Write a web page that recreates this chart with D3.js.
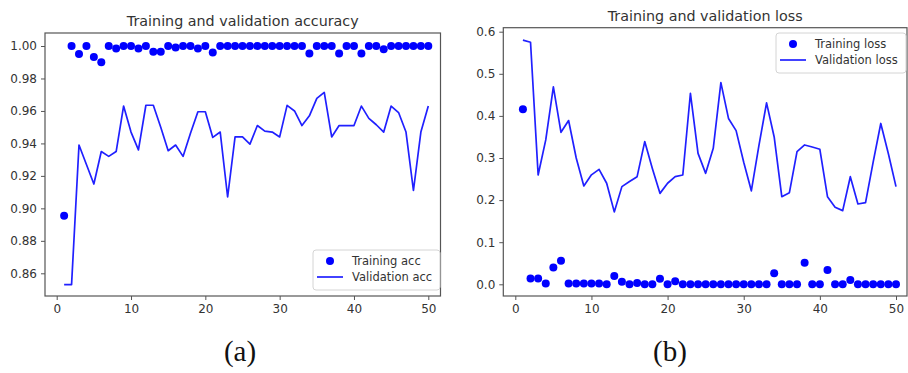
<html>
<head>
    <script src="https://d3js.org/d3.v7.min.js"></script>
    <style>
        body { margin: 0; background: #fff; }
        svg text { font-family: "DejaVu Sans"; fill: #333; }
        .tick line { stroke: #555; }
        .domain { display: none; }
        .caption { font-family: "Liberation Serif"; font-size: 29px; fill: #111; }
    </style>
</head>
<body>
<div id="chart"></div>
<script>
    // epochs 1..50
    var epochs = d3.range(1, 51);

    var trainAcc = [0.8955, 1.000, 0.995, 1.000, 0.9933, 0.990, 1.000, 0.9985, 1.000, 1.000,
                    0.9985, 1.000, 0.9965, 0.9965, 1.000, 0.999, 1.000, 1.000, 0.9985, 1.000,
                    0.996, 1.000, 1.000, 1.000, 1.000, 1.000, 1.000, 1.000, 1.000, 1.000,
                    1.000, 1.000, 1.000, 0.9954, 1.000, 1.000, 1.000, 0.9954, 1.000, 1.000,
                    0.9954, 1.000, 1.000, 0.998, 1.000, 1.000, 1.000, 1.000, 1.000, 1.000];
    var valAcc = [0.853, 0.853, 0.939, 0.927, 0.915, 0.935, 0.932, 0.935, 0.963, 0.947,
                  0.936, 0.9635, 0.9635, 0.950, 0.9355, 0.939, 0.932, 0.9463, 0.9595, 0.9595,
                  0.9437, 0.947, 0.907, 0.944, 0.944, 0.9396, 0.951, 0.9476, 0.947, 0.944,
                  0.9634, 0.960, 0.951, 0.957, 0.9677, 0.9714, 0.944, 0.951, 0.951, 0.951,
                  0.963, 0.9554, 0.9515, 0.947, 0.963, 0.959, 0.947, 0.911, 0.947, 0.963];

    var trainLoss = [0.4157, 0.014, 0.014, 0.002, 0.040, 0.056, 0.002, 0.002, 0.002, 0.002,
                     0.002, 0.000, 0.020, 0.006, 0.000, 0.003, 0.000, 0.000, 0.013, 0.000,
                     0.007, 0.000, 0.000, 0.000, 0.000, 0.000, 0.000, 0.000, 0.000, 0.000,
                     0.000, 0.000, 0.000, 0.026, 0.000, 0.000, 0.000, 0.0514, 0.000, 0.000,
                     0.034, 0.000, 0.000, 0.010, 0.000, 0.000, 0.000, 0.000, 0.000, 0.000];
    var valLoss = [0.580, 0.575, 0.2596, 0.343, 0.469, 0.361, 0.389, 0.300, 0.2335, 0.260,
                   0.273, 0.240, 0.172, 0.232, 0.244, 0.2556, 0.339, 0.275, 0.216, 0.240,
                   0.2556, 0.2596, 0.4537, 0.311, 0.2636, 0.323, 0.479, 0.394, 0.365, 0.290,
                   0.222, 0.330, 0.431, 0.350, 0.208, 0.2176, 0.315, 0.331, 0.326, 0.3207,
                   0.208, 0.183, 0.175, 0.2556, 0.1907, 0.194, 0.290, 0.382, 0.310, 0.232];

    var xTicks = [0, 10, 20, 30, 40, 50];
    var accTicks = [0.86, 0.88, 0.90, 0.92, 0.94, 0.96, 0.98, 1.00];
    var lossTicks = [0.0, 0.1, 0.2, 0.3, 0.4, 0.5, 0.6];

    var svg = d3.select("#chart").append("svg")
        .attr("width", 908)
        .attr("height", 373);

    function panel(opt) {
        var x = d3.scaleLinear().domain([0, 50]).range(opt.xr);
        var y = d3.scaleLinear().domain(opt.yd).range(opt.yr);
        var g = svg.append("g");

        g.append("rect")
            .attr("x", opt.box[0]).attr("y", opt.box[1])
            .attr("width", opt.box[2] - opt.box[0])
            .attr("height", opt.box[3] - opt.box[1])
            .attr("fill", "none")
            .attr("stroke", "#555")
            .attr("stroke-width", 1.2);

        g.append("g")
            .attr("transform", "translate(0," + opt.box[3] + ")")
            .call(d3.axisBottom(x).tickValues(xTicks).tickSize(4).tickPadding(4))
            .selectAll("text").style("font-size", "12px");

        g.append("g")
            .attr("transform", "translate(" + opt.box[0] + ",0)")
            .call(d3.axisLeft(y).tickValues(opt.yticks).tickSize(4).tickPadding(4)
                .tickFormat(d3.format(opt.fmt)))
            .selectAll("text").style("font-size", "12px");

        var line = d3.line()
            .x(function(d, i) { return x(epochs[i]); })
            .y(function(d) { return y(d); });

        g.append("path")
            .datum(opt.val)
            .attr("d", line)
            .attr("fill", "none")
            .attr("stroke", "#2020ff")
            .attr("stroke-width", 1.7)
            .attr("stroke-linejoin", "round");

        g.selectAll("circle.pt")
            .data(opt.train)
            .enter()
            .append("circle")
            .attr("class", "pt")
            .attr("cx", function(d, i) { return x(epochs[i]); })
            .attr("cy", function(d) { return y(d); })
            .attr("r", 4)
            .attr("fill", "blue");

        g.append("text")
            .attr("x", (opt.box[0] + opt.box[2]) / 2)
            .attr("y", opt.box[1] - 7)
            .attr("text-anchor", "middle")
            .style("font-size", "14.3px")
            .text(opt.title);

        // legend
        var lg = g.append("g").attr("transform", "translate(" + opt.leg[0] + "," + opt.leg[1] + ")");
        lg.append("rect")
            .attr("width", opt.leg[2]).attr("height", 40)
            .attr("rx", 3)
            .attr("fill", "white").attr("fill-opacity", 0.8)
            .attr("stroke", "#d4d4d4");
        lg.append("circle").attr("cx", 17).attr("cy", 11).attr("r", 4).attr("fill", "blue");
        lg.append("line").attr("x1", 4).attr("x2", 30).attr("y1", 27).attr("y2", 27)
            .attr("stroke", "#2020ff").attr("stroke-width", 1.7);
        lg.append("text").attr("x", 39).attr("y", 15).style("font-size", "11.5px").text(opt.names[0]);
        lg.append("text").attr("x", 39).attr("y", 31).style("font-size", "11.5px").text(opt.names[1]);
    }

    panel({
        xr: [56.7, 428.3], yd: [0.86, 1.00], yr: [273.3, 46],
        box: [45, 33, 440.5, 296], yticks: accTicks, fmt: ".2f",
        train: trainAcc, val: valAcc,
        title: "Training and validation accuracy",
        leg: [313, 250, 127], names: ["Training acc", "Validation acc"]
    });

    panel({
        xr: [515.3, 896], yd: [0, 0.6], yr: [284.3, 31.7],
        box: [503.3, 27.7, 907, 296], yticks: lossTicks, fmt: ".1f",
        train: trainLoss, val: valLoss,
        title: "Training and validation loss",
        leg: [776, 33, 130], names: ["Training loss", "Validation loss"]
    });

    svg.append("text").attr("class", "caption")
        .attr("x", 240).attr("y", 361).attr("text-anchor", "middle").text("(a)");
    svg.append("text").attr("class", "caption")
        .attr("x", 670).attr("y", 361).attr("text-anchor", "middle").text("(b)");
</script>
</body>
</html>
